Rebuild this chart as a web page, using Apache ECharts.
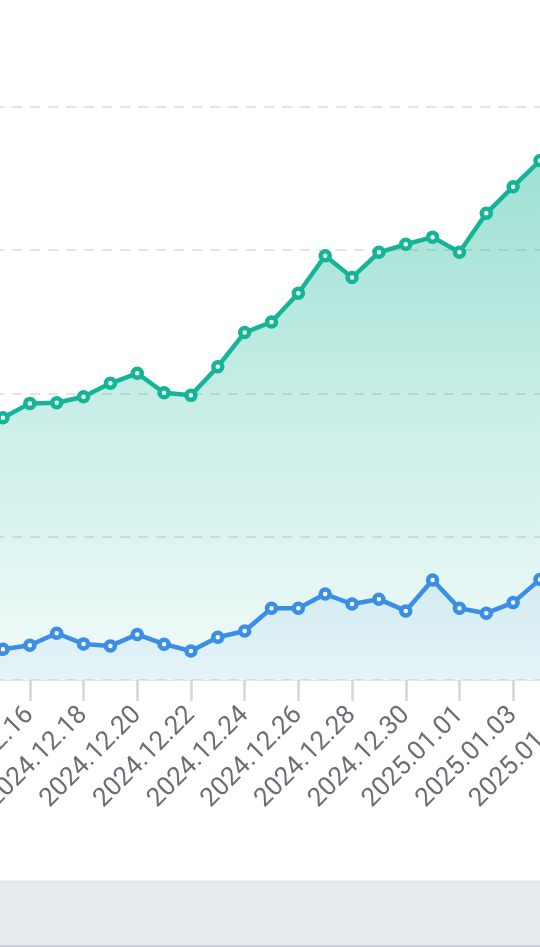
<!DOCTYPE html>
<html>
<head>
<meta charset="utf-8">
<script src="https://cdn.jsdelivr.net/npm/echarts@6/dist/echarts.min.js"></script>
<style>html,body{margin:0;padding:0;background:#fff;}#c{width:540px;height:947px;}</style>
</head>
<body>
<div id="c"></div>
<script>
var categories = ['2024.12.14','2024.12.15','2024.12.16','2024.12.17','2024.12.18','2024.12.19','2024.12.20','2024.12.21','2024.12.22','2024.12.23','2024.12.24','2024.12.25','2024.12.26','2024.12.27','2024.12.28','2024.12.29','2024.12.30','2024.12.31','2025.01.01','2025.01.02','2025.01.03','2025.01.04','2025.01.05'];
var greenValues = [900, 915, 965, 967, 988, 1035, 1070, 1002, 993, 1093, 1212, 1249, 1349, 1480, 1404, 1492, 1520, 1545, 1492, 1628, 1721, 1812, 1880];
var blueValues = [110, 107, 121, 163, 126, 119, 159, 125, 101, 149, 171, 250, 250, 300, 265, 282, 241, 349, 250, 233, 270, 351, 330];
var yTicks = [0, 500, 1000, 1500, 2000];

var chart = echarts.init(document.getElementById('c'));
chart.setOption({
  animation: false,
  backgroundColor: '#ffffff',
  grid: { left: -23.85, right: -26.85, top: 106.7, bottom: 267, containLabel: false, outerBoundsMode: 'none' },
  xAxis: {
    type: 'category',
    data: categories,
    boundaryGap: false,
    axisLine: { lineStyle: { color: '#e3e8ee', width: 1 } },
    axisTick: { interval: 1, length: 21, lineStyle: { color: '#d3d6d9', width: 2.5 } },
    axisLabel: { interval: 1, rotate: 45, fontSize: 26, margin: 31, color: '#6b6e74', fontFamily: 'Roboto' }
  },
  yAxis: {
    type: 'value',
    min: yTicks[0], max: yTicks[yTicks.length - 1], interval: 500,
    axisLabel: { show: false },
    axisLine: { show: false },
    axisTick: { show: false },
    splitLine: { lineStyle: { color: '#dcdcdc', type: [10, 8], width: 1.5 } }
  },
  series: [
    {
      type: 'line', data: greenValues,
      symbol: 'circle', symbolSize: 9, showAllSymbol: true,
      lineStyle: { color: '#14b596', width: 4.5 },
      itemStyle: { color: '#ffffff', borderWidth: 4.5, borderColor: '#14b596' },
      areaStyle: { color: new echarts.graphic.LinearGradient(0, 0, 0, 1, [
        { offset: 0, color: 'rgba(20,181,150,0.62)' },
        { offset: 0.55, color: 'rgba(20,181,150,0.3)' },
        { offset: 1, color: 'rgba(20,181,150,0.08)' }
      ]) }
    },
    {
      type: 'line', data: blueValues,
      symbol: 'circle', symbolSize: 9, showAllSymbol: true,
      lineStyle: { color: '#3a8ee6', width: 4.5 },
      itemStyle: { color: '#ffffff', borderWidth: 4.5, borderColor: '#3a8ee6' },
      areaStyle: { color: new echarts.graphic.LinearGradient(0, 0, 0, 1, [
        { offset: 0, color: 'rgba(58,142,230,0.14)' },
        { offset: 1, color: 'rgba(58,142,230,0.1)' }
      ]) }
    }
  ],
  graphic: [
    { type: 'rect', shape: { x: 0, y: 881, width: 540, height: 66 }, style: { fill: '#e7ebee' }, silent: true },
    { type: 'rect', shape: { x: 0, y: 880.5, width: 540, height: 1.5 }, style: { fill: '#dfe8ea' }, silent: true },
    { type: 'rect', shape: { x: 0, y: 945, width: 540, height: 2 }, style: { fill: '#c9cfd4' }, silent: true }
  ]
});
</script>
</body>
</html>
